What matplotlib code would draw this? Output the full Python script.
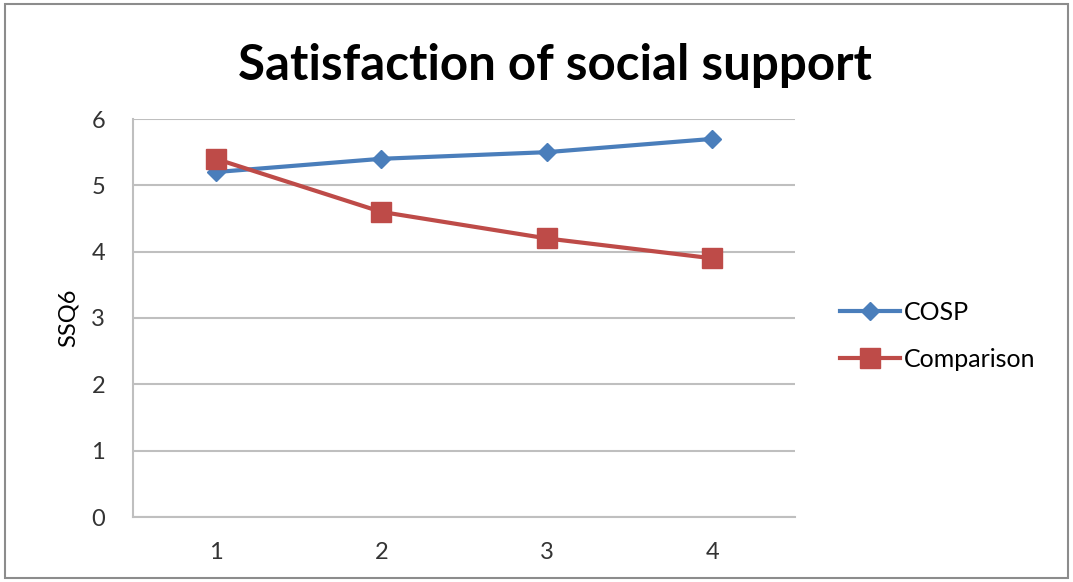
import matplotlib
matplotlib.use("Agg")
import matplotlib.pyplot as plt
from matplotlib.patches import Rectangle

categories = [1, 2, 3, 4]
cosp = [5.2, 5.4, 5.5, 5.7]
comparison = [5.4, 4.6, 4.2, 3.9]
y_ticks = [0, 1, 2, 3, 4, 5, 6]

plt.rcParams['font.family'] = ['Lato', 'DejaVu Sans']

fig = plt.figure(figsize=(10.73, 5.82), dpi=100)
ax = fig.add_axes([133/1073, 1 - 517/582, (795 - 133)/1073, (517 - 119)/582])

# outer frame of the chart
fig.patches.append(Rectangle((5/1073, 4/582), 1063/1073, 574/582, transform=fig.transFigure,
                             fill=False, edgecolor='#8c8c8c', linewidth=1.5))

blue = '#4A7EBB'
red = '#BE4B48'
ax.plot(categories, cosp, color=blue, linewidth=3, marker='D', markersize=9,
        label='COSP', zorder=3)
ax.plot(categories, comparison, color=red, linewidth=3, marker='s', markersize=14,
        label='Comparison', zorder=4)

ax.set_xlim(0.5, 4.5)
ax.set_ylim(0, 6)
ax.set_xticks(categories)
ax.set_yticks(y_ticks)
ax.tick_params(axis='both', length=0, labelsize=17, colors='#333333')
ax.tick_params(axis='y', pad=20)
ax.tick_params(axis='x', pad=18)
ax.grid(axis='y', color='#bfbfbf', linewidth=1.5)
ax.set_axisbelow(True)
for s in ['top', 'right']:
    ax.spines[s].set_visible(False)
for s in ['left', 'bottom']:
    ax.spines[s].set_color('#bfbfbf')
    ax.spines[s].set_linewidth(1.5)

ax.set_ylabel('SSQ6', fontsize=17, labelpad=9)
fig.text(555/1073, 1 - 65/582, 'Satisfaction of social support', ha='center', va='center',
         fontsize=35.5, fontweight='bold')

leg = fig.legend(loc='center left', bbox_to_anchor=(840/1073, 1 - 336/582), frameon=False,
                 fontsize=18, handlelength=2.4, labelspacing=0.95, handletextpad=0.15,
                 borderpad=0, borderaxespad=0)

fig.savefig('out.png', dpi=100)
